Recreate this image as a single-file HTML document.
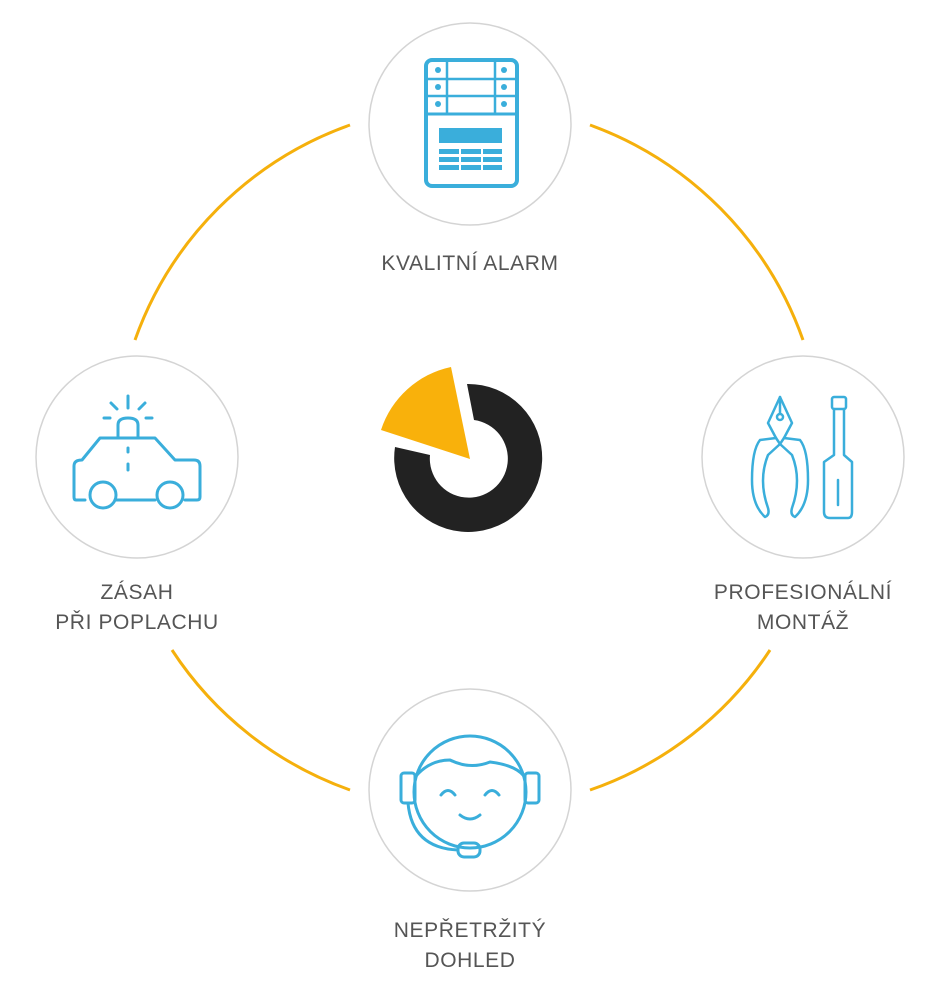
<!DOCTYPE html>
<html><head><meta charset="utf-8"><style>
body{margin:0;background:#fff;}
svg{display:block}
text{font-family:"Liberation Sans",sans-serif;font-size:21px;fill:#555;letter-spacing:0.6px}
</style></head><body>
<svg width="946" height="995" viewBox="0 0 946 995">
<g fill="none" stroke="#f5b00c" stroke-width="3">
<path d="M135 340 A354 354 0 0 1 350 125"/>
<path d="M590 125 A354 354 0 0 1 803 340"/>
<path d="M770 650 A354 354 0 0 1 590 790"/>
<path d="M350 790 A354 354 0 0 1 172 650"/>
</g>
<g fill="#fff" stroke="#d4d4d4" stroke-width="1.5">
<circle cx="470" cy="124" r="101"/>
<circle cx="803" cy="457" r="101"/>
<circle cx="137" cy="457" r="101"/>
<circle cx="470" cy="790" r="101"/>
</g>
<path d="M467 384 A74 74 0 1 1 395 447 L430 455 A39 39 0 1 0 474 420 Z" fill="#222"/>
<path d="M470 459 L451 367 A94 94 0 0 0 381 430 Z" fill="#f9b10b"/>
<g stroke="#3aaedb" fill="none" stroke-width="4">
<rect x="426" y="60" width="91" height="126" rx="6"/>
<line x1="426" y1="79" x2="517" y2="79" stroke-width="2.5"/>
<line x1="426" y1="96" x2="517" y2="96" stroke-width="2.5"/>
<line x1="426" y1="114" x2="517" y2="114" stroke-width="3"/>
<line x1="447" y1="60" x2="447" y2="114" stroke-width="2.5"/>
<line x1="495" y1="60" x2="495" y2="114" stroke-width="2.5"/>
</g>
<g fill="#3aaedb">
<circle cx="438" cy="70" r="3"/><circle cx="504" cy="70" r="3"/>
<circle cx="438" cy="87" r="3"/><circle cx="504" cy="87" r="3"/>
<circle cx="438" cy="104" r="3"/><circle cx="504" cy="104" r="3"/>
<rect x="439" y="128" width="63" height="15"/>
<rect x="439" y="149" width="20" height="5"/><rect x="461" y="149" width="20" height="5"/><rect x="483" y="149" width="19" height="5"/>
<rect x="439" y="157" width="20" height="5"/><rect x="461" y="157" width="20" height="5"/><rect x="483" y="157" width="19" height="5"/>
<rect x="439" y="165" width="20" height="5"/><rect x="461" y="165" width="20" height="5"/><rect x="483" y="165" width="19" height="5"/>
</g>
<g stroke="#3aaedb" fill="none" stroke-width="2.5" stroke-linejoin="round" stroke-linecap="round">
<rect x="832" y="397" width="14" height="12" rx="2"/>
<path d="M834 409 V455 L824 462 V512 Q824 518 830 518 H848 Q852 518 852 512 V462 L844 455 V409"/>
<line x1="838" y1="480" x2="838" y2="505"/>
<path d="M780 397 L768 423 L776 438 L760 440 Q752 450 752 480 Q752 505 765 517 Q770 515 768 508 Q758 480 768 455 L780 444 L792 455 Q802 480 792 508 Q790 515 795 517 Q808 505 808 480 Q808 450 800 440 L784 438 L792 423 Z"/>
<circle cx="780" cy="417" r="3"/>
<line x1="780" y1="397" x2="780" y2="413"/>
<path d="M776 438 L780 444 L784 438"/>
</g>
<g stroke="#3aaedb" fill="none" stroke-width="3" stroke-linecap="round" stroke-linejoin="round">
<path d="M85 500 H76 Q74 500 74 497 V466 Q74 460 82 460 L100 438 H155 L175 460 H194 Q200 460 200 466 V497 Q200 500 197 500 H185"/>
<path d="M115 500 H155"/>
<circle cx="103" cy="495" r="13"/><circle cx="170" cy="495" r="13"/>
<path d="M118 438 V425 Q118 418 128 418 Q138 418 138 425 V438"/>
<line x1="128" y1="396" x2="128" y2="408"/>
<line x1="111" y1="403" x2="117" y2="409"/>
<line x1="145" y1="403" x2="139" y2="409"/>
<line x1="104" y1="418" x2="110" y2="418"/>
<line x1="146" y1="418" x2="152" y2="418"/>
<line x1="128" y1="448" x2="128" y2="452"/>
<line x1="128" y1="464" x2="128" y2="470"/>
</g>
<g stroke="#3aaedb" fill="none" stroke-width="3" stroke-linecap="round" stroke-linejoin="round">
<circle cx="470" cy="792" r="56"/>
<path d="M416 776 Q430 760 450 760 Q470 770 490 762 Q515 765 524 776"/>
<rect x="401" y="773" width="14" height="30" rx="3"/>
<rect x="525" y="773" width="14" height="30" rx="3"/>
<path d="M408 803 Q412 848 458 850"/>
<rect x="458" y="843" width="22" height="14" rx="6"/>
<path d="M441 795 Q448 786 455 795"/>
<path d="M485 795 Q492 786 499 795"/>
<path d="M460 815 Q470 823 480 815"/>
</g>
<text x="470" y="270" text-anchor="middle">KVALITNÍ ALARM</text>
<text x="803" y="599" text-anchor="middle">PROFESIONÁLNÍ</text>
<text x="803" y="629" text-anchor="middle">MONTÁŽ</text>
<text x="137" y="599" text-anchor="middle">ZÁSAH</text>
<text x="137" y="629" text-anchor="middle">PŘI POPLACHU</text>
<text x="470" y="937" text-anchor="middle">NEPŘETRŽITÝ</text>
<text x="470" y="967" text-anchor="middle">DOHLED</text>
</svg>
</body></html>
